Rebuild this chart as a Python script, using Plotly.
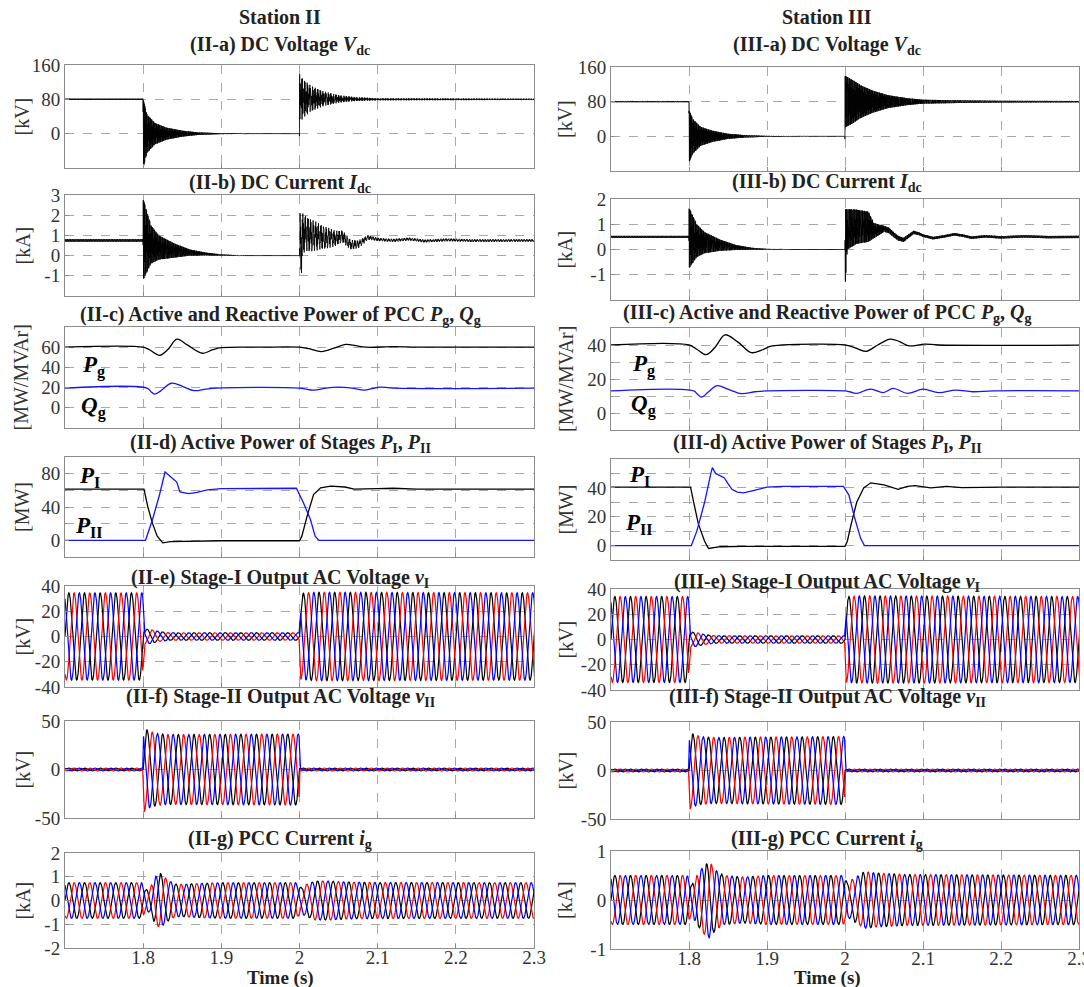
import numpy as np
import plotly.graph_objects as go

W, H = 1084, 987
FONT = "Liberation Serif"

# ---------------------------------------------------------------- time bases
T_MIN, T_MAX = 1.70, 2.30
t_ac = np.arange(1.70, 2.3101, 1e-4)
t_dc = np.arange(1.70, 2.3101, 5e-5)
F_GRID = 50.0
PHASES = [0.0, 2 * np.pi / 3, -2 * np.pi / 3]          # phase a, b, c
PHASE_COLORS = ["#000000", "#0000ff", "#ff0000"]
PHASE_ORDER = [0, 2, 1]                                 # draw a, c, b

# ---------------------------------------------------------------- Station II : DC voltage [kV]
vdc2_mean_t = [1.70, 1.7999, 1.8001, 2.0, 2.0001, 2.05, 2.10, 2.31]
vdc2_mean_v = [80, 80, 0, 0, 82, 81, 80, 80]
vdc2_env_t = [1.70, 1.7999, 1.8001, 1.805, 1.815, 1.83, 1.85, 1.87, 1.90, 1.95, 1.9999,
              2.0001, 2.005, 2.015, 2.03, 2.05, 2.07, 2.10, 2.31]
vdc2_env_v = [1.5, 1.5, 80, 45, 25, 14, 7, 3, 1, 0.2, 0,
              58, 45, 30, 18, 9, 5, 2.5, 1.5]
vdc2_osc_f = [1150.0, 1450.0]
vdc2_wt_t = [1.70, 1.9999, 2.0001, 2.31]
vdc2_wt_lo = [0.0, 0.0, 0.5, 0.5]

# ---------------------------------------------------------------- Station II : DC current [kA]
idc2_mean_t = [1.70, 1.7999, 1.8001, 1.81, 1.82, 1.84, 1.86, 1.88, 1.90, 1.93, 2.0,
               2.0001, 2.005, 2.015, 2.03, 2.045, 2.055, 2.065, 2.075, 2.088, 2.10,
               2.12, 2.14, 2.16, 2.19, 2.22, 2.31]
idc2_mean_v = [0.75, 0.75, 0.8, 0.55, 0.4, 0.25, 0.15, 0.08, 0.03, 0.0, 0.0,
               0.1, 1.1, 1.0, 0.9, 0.85, 0.95, 0.55, 0.55, 0.9, 0.8,
               0.75, 0.82, 0.72, 0.78, 0.74, 0.75]
idc2_env_t = [1.70, 1.7999, 1.8001, 1.81, 1.82, 1.84, 1.86, 1.88, 1.90, 1.93, 2.0,
              2.0001, 2.005, 2.015, 2.03, 2.045, 2.055, 2.065, 2.075, 2.088, 2.10, 2.31]
idc2_env_v = [0.06, 0.06, 2.0, 0.95, 0.6, 0.35, 0.15, 0.07, 0.03, 0.0, 0.0,
              2.0, 1.0, 0.8, 0.6, 0.4, 0.3, 0.25, 0.2, 0.12, 0.08, 0.06]
idc2_osc_f = [300.0, 1450.0]
idc2_wt_t = [1.70, 1.9999, 2.0001, 2.31]
idc2_wt_lo = [0.0, 0.0, 0.5, 0.5]

# ---------------------------------------------------------------- Station III : DC voltage [kV]
vdc3_mean_t = [1.70, 1.7999, 1.8001, 2.0, 2.0001, 2.31]
vdc3_mean_v = [80, 80, 0, 0, 80, 80]
vdc3_env_t = [1.70, 1.7999, 1.8001, 1.805, 1.815, 1.83, 1.85, 1.87, 1.90, 1.95, 1.9999,
              2.0001, 2.01, 2.02, 2.035, 2.055, 2.08, 2.10, 2.15, 2.20, 2.31]
vdc3_env_v = [1.2, 1.2, 60, 40, 22, 13, 6, 3, 1, 0.2, 0,
              60, 50, 38, 26, 15, 8, 4.5, 3, 2, 1.5]
vdc3_osc_f = [1150.0, 1400.0]
vdc3_wt_t = [1.70, 2.31]
vdc3_wt_lo = [0.0, 0.0]

# ---------------------------------------------------------------- Station III : DC current [kA]
idc3_mean_t = [1.70, 1.7999, 1.8001, 1.81, 1.82, 1.84, 1.86, 1.88, 1.90, 1.93, 2.0,
               2.0001, 2.003, 2.015, 2.03, 2.037, 2.044, 2.05, 2.056, 2.062, 2.068, 2.075,
               2.081, 2.088, 2.095, 2.10, 2.113, 2.127, 2.14, 2.151, 2.162, 2.18, 2.20,
               2.23, 2.26, 2.31]
idc3_mean_v = [0.5, 0.5, 0.45, 0.35, 0.27, 0.17, 0.08, 0.03, 0.01, 0.0, 0.0,
               0.05, 0.8, 0.9, 0.9, 0.75, 0.78, 0.82, 0.76, 0.6, 0.45, 0.38,
               0.52, 0.68, 0.62, 0.55, 0.45, 0.52, 0.6, 0.55, 0.47, 0.52, 0.48,
               0.52, 0.49, 0.5]
idc3_env_t = [1.70, 1.7999, 1.8001, 1.81, 1.82, 1.84, 1.86, 1.88, 1.90, 1.93, 2.0,
              2.0001, 2.003, 2.015, 2.03, 2.037, 2.05, 2.062, 2.075, 2.10, 2.31]
idc3_env_v = [0.04, 0.04, 1.2, 0.65, 0.42, 0.22, 0.1, 0.04, 0.015, 0.0, 0.0,
              1.55, 0.8, 0.68, 0.6, 0.3, 0.12, 0.1, 0.08, 0.05, 0.045]
idc3_osc_f = [1150.0, 1450.0]
idc3_wt_t = [1.70, 2.31]
idc3_wt_lo = [0.0, 0.0]

# ---------------------------------------------------------------- PCC powers [MW / MVAr]
pg2_t = [1.70, 1.80, 1.808, 1.821, 1.832, 1.843, 1.857, 1.876, 1.889, 1.90, 1.95,
         2.0, 2.012, 2.028, 2.044, 2.059, 2.072, 2.085, 2.12, 2.15, 2.20, 2.31]
pg2_v = [60, 60, 57.5, 52, 58, 68, 62, 54, 57.5, 59.5, 60,
         60, 58.5, 55.7, 59, 62.7, 61.5, 60, 60.5, 60, 60, 60]
qg2_t = [1.70, 1.805, 1.810, 1.8145, 1.822, 1.836, 1.851, 1.865, 1.88, 1.893,
         2.0, 2.018, 2.034, 2.05, 2.067, 2.083, 2.093, 2.103, 2.12, 2.31]
qg2_v = [19.5, 19.5, 16, 13.5, 16.5, 24.3, 21, 17, 18.5, 19.5,
         19.5, 17.5, 19.5, 20.5, 19.5, 17.5, 19, 20.5, 19.5, 19.5]
pg3_t = [1.70, 1.80, 1.81, 1.822, 1.834, 1.846, 1.862, 1.88, 1.893, 1.905, 1.92,
         2.0, 2.012, 2.027, 2.042, 2.058, 2.07, 2.082, 2.102, 2.12, 2.31]
pg3_v = [40, 40, 37.5, 34.3, 39, 46, 42, 35.5, 37, 39.3, 40,
         40, 38.5, 36.3, 40, 43.5, 42, 39.5, 40.5, 40, 40]
qg3_t = [1.70, 1.806, 1.811, 1.816, 1.824, 1.836, 1.85, 1.867, 1.885, 1.90,
         2.0, 2.006, 2.014, 2.033, 2.049, 2.062, 2.08, 2.10, 2.12, 2.142, 2.164, 2.19, 2.31]
qg3_v = [13, 13, 11, 9.3, 12, 16.1, 14, 11.4, 12.5, 13,
         13, 12.5, 11.5, 14, 12, 14.5, 11.5, 14, 12, 13.5, 12.5, 13, 13]

# ---------------------------------------------------------------- stage powers [MW]
p1_2_t = [1.70, 1.801, 1.806, 1.812, 1.818, 1.825, 1.835, 1.86, 1.90, 2.0, 2.003,
          2.01, 2.018, 2.027, 2.04, 2.058, 2.07, 2.10, 2.12, 2.15, 2.31]
p1_2_v = [61.5, 61.5, 40, 20, 5, -3, -1.5, -0.8, -0.5, -0.5, 5,
          30, 55, 63, 65, 64, 61.5, 62, 62.5, 61.5, 61.5]
p2_2_t = [1.70, 1.803, 1.812, 1.821, 1.828, 1.834, 1.843, 1.847, 1.853, 1.858,
          1.869, 1.882, 1.90, 1.996, 2.005, 2.014, 2.02, 2.025, 2.31]
p2_2_v = [0, 0, 25, 55, 82, 77, 70, 58, 57, 56,
          57.5, 60.5, 62, 62.5, 45, 25, 5, 0, 0]
p1_3_t = [1.70, 1.802, 1.806, 1.812, 1.82, 1.825, 1.84, 1.87, 2.0, 2.003, 2.008,
          2.015, 2.024, 2.033, 2.05, 2.068, 2.08, 2.09, 2.11, 2.13, 2.15, 2.20, 2.31]
p1_3_v = [40.5, 40.5, 30, 15, 3, -2, -0.8, -0.5, -0.5, 3, 15,
          30, 40, 43.5, 42, 39, 41, 41.5, 40, 41, 40.2, 40.5, 40.5]
p2_3_t = [1.70, 1.803, 1.81, 1.82, 1.828, 1.83, 1.834, 1.845, 1.85, 1.855, 1.862,
          1.87, 1.885, 1.90, 1.92, 1.998, 2.005, 2.012, 2.02, 2.025, 2.31]
p2_3_v = [0, 0, 10, 30, 50, 54, 50, 47, 43, 39, 37,
          36.5, 38.5, 40.5, 41, 41, 35, 20, 5, 0, 0]

# ---------------------------------------------------------------- AC amplitudes
ve2_amp_t = [1.70, 1.7995, 1.8015, 1.81, 1.82, 1.835, 1.9995, 2.0015, 2.02, 2.31]
ve2_amp_v = [34.5, 34.5, 6, 5.5, 4, 3, 3, 34, 35, 34.5]
ve3_amp_t = [1.70, 1.7995, 1.8015, 1.81, 1.82, 1.835, 1.9995, 2.0015, 2.02, 2.31]
ve3_amp_v = [34, 34, 6, 5.5, 4, 3, 3, 34, 34.5, 34]
vf2_amp_t = [1.70, 1.7995, 1.8005, 1.806, 1.815, 1.83, 1.9995, 2.0005, 2.31]
vf2_amp_v = [1.5, 1.5, 44, 40, 37.5, 36, 36.5, 1.5, 1.5]
vf3_amp_t = [1.70, 1.7995, 1.8005, 1.806, 1.815, 1.83, 1.9995, 2.0005, 2.31]
vf3_amp_v = [1.5, 1.5, 40, 37, 35, 34, 35, 1.5, 1.5]
ig2_amp_t = [1.70, 1.798, 1.803, 1.808, 1.815, 1.822, 1.83, 1.84, 1.85, 1.87, 1.90,
             1.995, 2.002, 2.01, 2.02, 2.04, 2.06, 2.10, 2.31]
ig2_amp_v = [0.75, 0.75, 0.45, 0.5, 1.0, 1.15, 0.9, 0.7, 0.68, 0.72, 0.75,
             0.75, 0.55, 0.7, 0.82, 0.82, 0.78, 0.76, 0.75]
ig2_ph_t = [1.70, 1.798, 1.81, 1.83, 1.86, 2.0, 2.02, 2.31]
ig2_ph_v = [0.0, 0.0, 0.6, 0.9, 1.0, 1.0, 0.6, 0.6]
ig3_amp_t = [1.70, 1.798, 1.803, 1.81, 1.818, 1.826, 1.835, 1.845, 1.87, 1.90,
             1.998, 2.003, 2.012, 2.025, 2.04, 2.08, 2.31]
ig3_amp_v = [0.5, 0.5, 0.3, 0.5, 0.68, 0.78, 0.6, 0.5, 0.47, 0.5,
             0.5, 0.35, 0.45, 0.58, 0.55, 0.52, 0.5]
ig3_ph_t = [1.70, 1.798, 1.81, 1.83, 1.86, 2.0, 2.02, 2.31]
ig3_ph_v = [0.0, 0.0, 0.6, 0.9, 1.0, 1.0, 0.6, 0.6]


def dc_signal(mean_t, mean_v, env_t, env_v, freqs, wt_t, wt_lo):
    """Mean level plus an enveloped switching ripple (two tones, low-tone weight varies)."""
    m = np.interp(t_dc, mean_t, mean_v)
    e = np.interp(t_dc, env_t, env_v)
    w_lo = np.interp(t_dc, wt_t, wt_lo)
    c = w_lo * np.sin(2 * np.pi * freqs[0] * t_dc) + (1 - w_lo) * np.sin(2 * np.pi * freqs[1] * t_dc)
    return m + e * c


def three_phase(amp_t, amp_v, ph_t=None, ph_v=None):
    a = np.interp(t_ac, amp_t, amp_v)
    dp = np.zeros_like(t_ac) if ph_t is None else np.interp(t_ac, ph_t, ph_v)
    base = 2 * np.pi * F_GRID * (t_ac - 1.70) + dp
    return [a * np.sin(base + p) for p in PHASES]


# ---------------------------------------------------------------- layout geometry
COL_X = [(65, 534), (611, 1079)]
ROWS = [
    [(65, 168), (195, 296), (327, 428), (457, 557), (586, 687), (721, 818), (853, 948)],
    [(67, 171), (199, 300), (328, 430), (459, 560), (589, 690), (722, 819), (851, 949)],
]
TITLE_Y = [[45, 183, 315, 443, 578, 697, 839], [45, 182, 314, 443, 582, 697, 839]]
TITLE_X = [280, 827]
YLAB_X = [[22, 22, 20, 22, 22, 22, 22], [565, 565, 566, 565, 565, 565, 565]]

titles = [
    ["(II-a) DC Voltage <i>V</i><sub>dc</sub>",
     "(II-b) DC Current <i>I</i><sub>dc</sub>",
     "(II-c) Active and Reactive Power of PCC <i>P</i><sub>g</sub>, <i>Q</i><sub>g</sub>",
     "(II-d) Active Power of Stages <i>P</i><sub>I</sub>, <i>P</i><sub>II</sub>",
     "(II-e) Stage-I Output AC Voltage <i>v</i><sub>I</sub>",
     "(II-f) Stage-II Output AC Voltage <i>v</i><sub>II</sub>",
     "(II-g) PCC Current <i>i</i><sub>g</sub>"],
    ["(III-a) DC Voltage <i>V</i><sub>dc</sub>",
     "(III-b) DC Current <i>I</i><sub>dc</sub>",
     "(III-c) Active and Reactive Power of PCC <i>P</i><sub>g</sub>, <i>Q</i><sub>g</sub>",
     "(III-d) Active Power of Stages <i>P</i><sub>I</sub>, <i>P</i><sub>II</sub>",
     "(III-e) Stage-I Output AC Voltage <i>v</i><sub>I</sub>",
     "(III-f) Stage-II Output AC Voltage <i>v</i><sub>II</sub>",
     "(III-g) PCC Current <i>i</i><sub>g</sub>"],
]
ylabels = ["[kV]", "[kA]", "[MW/MVAr]", "[MW]", "[kV]", "[kV]", "[kA]"]

# y-axis ranges, labelled ticks and extra (unlabelled) grid lines
y_ranges = [
    [[-80, 160], [-2, 3], [-20, 80], [-20, 100], [-40, 40], [-50, 50], [-2, 2]],
    [[-80, 160], [-2, 2], [-10, 50], [-10, 60], [-40, 40], [-50, 50], [-1, 1]],
]
y_ticks = [
    [[0, 80, 160], [-1, 0, 1, 2, 3], [0, 20, 40, 60], [0, 40, 80],
     [-40, -20, 0, 20, 40], [-50, 0, 50], [-2, -1, 0, 1, 2]],
    [[0, 80, 160], [-1, 0, 1, 2], [0, 20, 40], [0, 20, 40],
     [-40, -20, 0, 20, 40], [-50, 0, 50], [-1, 0, 1]],
]
y_minor = [
    [[], [], [], [20, 60], [], [], []],
    [[], [], [10, 30], [10, 30, 50], [], [], []],
]
x_ticks = [1.8, 1.9, 2.0, 2.1, 2.2, 2.3]
x_ticktext = ["1.8", "1.9", "2", "2.1", "2.2", "2.3"]

fig = go.Figure()
annotations = []


def axis_id(col, row):
    return col * 7 + row + 1


def add(col, row, x, y, color, width=1.2, shape="linear"):
    k = axis_id(col, row)
    fig.add_trace(go.Scatter(
        x=x, y=y, mode="lines", line=dict(color=color, width=width, shape=shape),
        xaxis="x" if k == 1 else f"x{k}", yaxis="y" if k == 1 else f"y{k}",
        showlegend=False, hoverinfo="skip"))


# DC panels
add(0, 0, t_dc, dc_signal(vdc2_mean_t, vdc2_mean_v, vdc2_env_t, vdc2_env_v, vdc2_osc_f, vdc2_wt_t, vdc2_wt_lo), "#000000", 0.8)
add(0, 1, t_dc, dc_signal(idc2_mean_t, idc2_mean_v, idc2_env_t, idc2_env_v, idc2_osc_f, idc2_wt_t, idc2_wt_lo), "#000000", 0.8)
add(1, 0, t_dc, dc_signal(vdc3_mean_t, vdc3_mean_v, vdc3_env_t, vdc3_env_v, vdc3_osc_f, vdc3_wt_t, vdc3_wt_lo), "#000000", 0.8)
add(1, 1, t_dc, dc_signal(idc3_mean_t, idc3_mean_v, idc3_env_t, idc3_env_v, idc3_osc_f, idc3_wt_t, idc3_wt_lo), "#000000", 0.8)

# PCC powers
add(0, 2, pg2_t, pg2_v, "#000000", 1.3, "spline")
add(0, 2, qg2_t, qg2_v, "#1414ff", 1.3, "spline")
add(1, 2, pg3_t, pg3_v, "#000000", 1.3, "spline")
add(1, 2, qg3_t, qg3_v, "#1414ff", 1.3, "spline")

# stage powers
add(0, 3, p1_2_t, p1_2_v, "#000000", 1.3)
add(0, 3, p2_2_t, p2_2_v, "#1414ff", 1.3)
add(1, 3, p1_3_t, p1_3_v, "#000000", 1.3)
add(1, 3, p2_3_t, p2_3_v, "#1414ff", 1.3)

# three-phase waveforms
ac_sets = [
    (0, 4, three_phase(ve2_amp_t, ve2_amp_v)),
    (0, 5, three_phase(vf2_amp_t, vf2_amp_v)),
    (0, 6, three_phase(ig2_amp_t, ig2_amp_v, ig2_ph_t, ig2_ph_v)),
    (1, 4, three_phase(ve3_amp_t, ve3_amp_v)),
    (1, 5, three_phase(vf3_amp_t, vf3_amp_v)),
    (1, 6, three_phase(ig3_amp_t, ig3_amp_v, ig3_ph_t, ig3_ph_v)),
]
for col, row, waves in ac_sets:
    for i in PHASE_ORDER:
        add(col, row, t_ac, waves[i], PHASE_COLORS[i], 1.2)

GRID = dict(showgrid=True, gridcolor="#a8a8a8", griddash="dash", gridwidth=1)
FRAME = dict(zeroline=False, showline=True, mirror=True, linecolor="#8c8c8c", linewidth=1,
             ticks="inside", ticklen=4, tickcolor="#8c8c8c", automargin=False,
             tickfont=dict(family=FONT, size=19, color="#333333"))

# axes
layout_axes = {}
for col in range(2):
    x0, x1 = COL_X[col]
    for row in range(7):
        k = axis_id(col, row)
        top, bot = ROWS[col][row]
        xname = "xaxis" if k == 1 else f"xaxis{k}"
        yname = "yaxis" if k == 1 else f"yaxis{k}"
        xax = dict(
            domain=[x0 / W, x1 / W], range=[T_MIN, T_MAX],
            anchor="y" if k == 1 else f"y{k}",
            tickvals=x_ticks, ticktext=x_ticktext, showticklabels=(row == 6),
            ticklabeloverflow="allow", ticklabelstandoff=-8,
            **GRID, **FRAME)
        layout_axes[xname] = xax
        yax = dict(
            domain=[1 - bot / H, 1 - top / H], range=y_ranges[col][row],
            anchor="x" if k == 1 else f"x{k}",
            tickvals=y_ticks[col][row], ticktext=[str(v) for v in y_ticks[col][row]],
            **GRID, **FRAME)
        if y_minor[col][row]:
            yax["minor"] = dict(tickvals=y_minor[col][row], showgrid=True, gridcolor="#a8a8a8",
                                griddash="dash", gridwidth=1, ticks="inside", ticklen=2,
                                tickcolor="#8c8c8c")
        layout_axes[yname] = yax
        # panel title
        annotations.append(dict(
            text=f"<b>{titles[col][row]}</b>", xref="paper", yref="paper",
            x=TITLE_X[col] / W, y=1 - TITLE_Y[col][row] / H, xanchor="center", yanchor="middle",
            showarrow=False, font=dict(family=FONT, size=20, color="#222222")))
        # y label
        annotations.append(dict(
            text=ylabels[row], xref="paper", yref="paper", textangle=-90,
            x=YLAB_X[col][row] / W, y=1 - (top + bot) / 2 / H, xanchor="center", yanchor="middle",
            showarrow=False, font=dict(family=FONT, size=20, color="#333333")))

# station headings and time labels
for col, name in enumerate(["Station II", "Station III"]):
    annotations.append(dict(
        text=f"<b>{name}</b>", xref="paper", yref="paper", x=TITLE_X[col] / W, y=1 - 17 / H,
        xanchor="center", yanchor="middle", showarrow=False,
        font=dict(family=FONT, size=20, color="#222222")))
    annotations.append(dict(
        text="<b>Time (s)</b>", xref="paper", yref="paper", x=TITLE_X[col] / W, y=1 - 978 / H,
        xanchor="center", yanchor="middle", showarrow=False,
        font=dict(family=FONT, size=19, color="#222222")))

# curve labels inside the power panels
curve_labels = [
    (0, 2, 1.737, 41, "<b><i>P</i><sub>g</sub></b>"),
    (0, 2, 1.737, 0, "<b><i>Q</i><sub>g</sub></b>"),
    (1, 2, 1.742, 27.8, "<b><i>P</i><sub>g</sub></b>"),
    (1, 2, 1.742, 4.3, "<b><i>Q</i><sub>g</sub></b>"),
    (0, 3, 1.731, 76, "<b><i>P</i><sub>I</sub></b>"),
    (0, 3, 1.731, 15.7, "<b><i>P</i><sub>II</sub></b>"),
    (1, 3, 1.736, 48.2, "<b><i>P</i><sub>I</sub></b>"),
    (1, 3, 1.736, 15.3, "<b><i>P</i><sub>II</sub></b>"),
]
for col, row, xv, yv, txt in curve_labels:
    k = axis_id(col, row)
    annotations.append(dict(
        text=txt, xref="x" if k == 1 else f"x{k}", yref="y" if k == 1 else f"y{k}",
        x=xv, y=yv, xanchor="center", yanchor="middle", showarrow=False,
        font=dict(family=FONT, size=23, color="#000000")))

fig.update_layout(
    template="none",
    width=W, height=H, margin=dict(l=0, r=0, t=0, b=0, autoexpand=False),
    paper_bgcolor="#ffffff", plot_bgcolor="#ffffff",
    font=dict(family=FONT, color="#333333"),
    annotations=annotations, **layout_axes)

fig.write_html("out.html")
